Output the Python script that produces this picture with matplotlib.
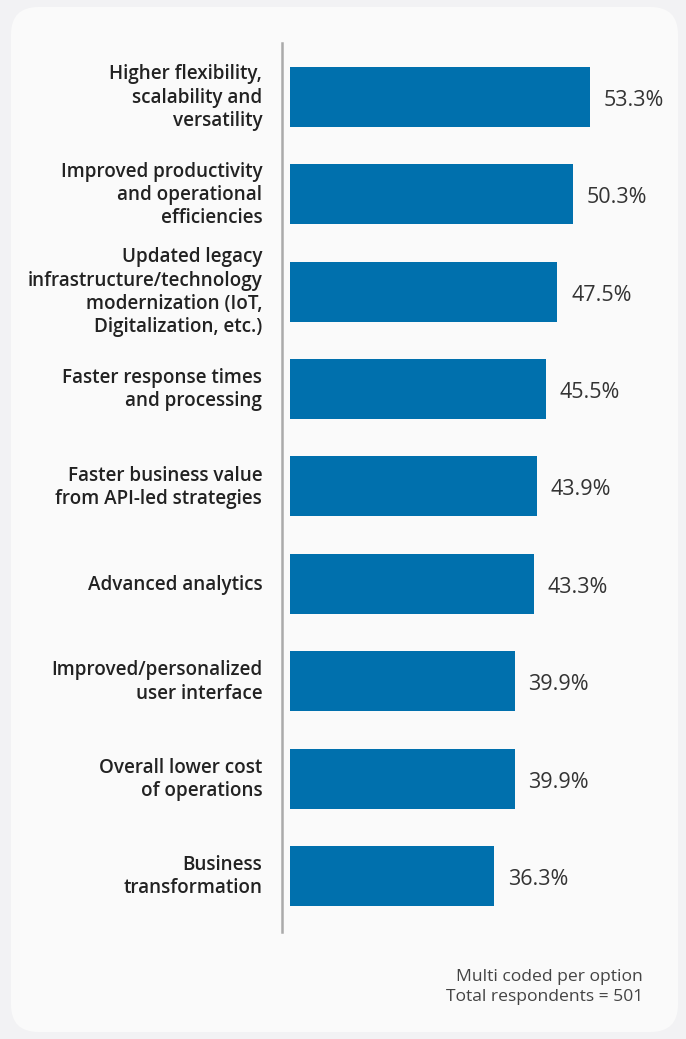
import matplotlib
matplotlib.use("Agg")
import matplotlib.pyplot as plt
from matplotlib.patches import FancyBboxPatch

plt.rcParams['font.family'] = ['Open Sans', 'DejaVu Sans']

labels = [
    "Higher flexibility,\nscalability and\nversatility",
    "Improved productivity\nand operational\nefficiencies",
    "Updated legacy\ninfrastructure/technology\nmodernization (IoT,\nDigitalization, etc.)",
    "Faster response times\nand processing",
    "Faster business value\nfrom API-led strategies",
    "Advanced analytics",
    "Improved/personalized\nuser interface",
    "Overall lower cost\nof operations",
    "Business\ntransformation",
]
values = [53.3, 50.3, 47.5, 45.5, 43.9, 43.3, 39.9, 39.9, 36.3]
note = "Multi coded per option\nTotal respondents = 501"

W, H = 686, 1039
fig = plt.figure(figsize=(W / 100, H / 100), dpi=100)
fig.patch.set_facecolor('#f2f2f4')

# rounded card behind the chart
card = FancyBboxPatch((11 / W, 7 / H), 667 / W, 1025 / H,
                      boxstyle="round,pad=0,rounding_size=0.04",
                      transform=fig.transFigure, facecolor='#fafafa',
                      edgecolor='none', mutation_aspect=W / H, zorder=-5)
fig.patches.append(card)

# axes spans from the divider line (x=282px) to the right edge
left, right = 282, 660
top, bottom = 43, 932
ax = fig.add_axes([left / W, 1 - bottom / H, (right - left) / W, (bottom - top) / H])
ax.set_facecolor('none')
ax.set_zorder(2)

px_per_unit = 300 / 53.3
ax.set_xlim(-(290 - left) / px_per_unit, (right - 290) / px_per_unit)
ax.set_ylim(8.575, -0.554)

ypos = list(range(len(values)))
ax.barh(ypos, values, height=0.616, color='#0070ad')

for y, v, lab in zip(ypos, values, labels):
    ax.annotate(f"{v}%", (v, y), xytext=(10, -2.5), textcoords='offset points',
                ha='left', va='center', fontsize=15.5, color='#333333')
    ax.annotate(lab, (0, y), xytext=(-20, -0.5), textcoords='offset points',
                ha='right', va='center', fontsize=13.6, fontweight='semibold',
                color='#222222', linespacing=1.22, annotation_clip=False)

for s in ['top', 'right', 'bottom']:
    ax.spines[s].set_visible(False)
ax.spines['left'].set_color('#aaaaaa')
ax.spines['left'].set_linewidth(1.8)
ax.set_xticks([])
ax.set_yticks([])

fig.text(643 / W, 1 - 987 / H, note, ha='right', va='center', fontsize=12.6,
         color='#444444', linespacing=1.4, multialignment='right')

fig.savefig('out.png', dpi=100, facecolor=fig.get_facecolor())
